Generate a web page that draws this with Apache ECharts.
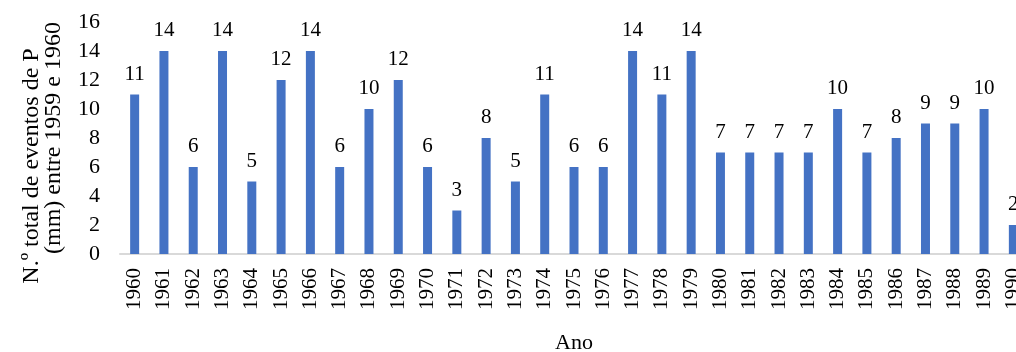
<!DOCTYPE html>
<html>
<head>
<meta charset="utf-8">
<script src="https://cdn.jsdelivr.net/npm/echarts@6/dist/echarts.min.js"></script>
<style>
  html, body { margin: 0; padding: 0; background: #fff; }
  #chart-container { width: 1016px; height: 352px; }
</style>
</head>
<body>
<div id="chart-container"></div>
<script>
// dados
const anos = ['1960', '1961', '1962', '1963', '1964', '1965', '1966', '1967', '1968', '1969',
    '1970', '1971', '1972', '1973', '1974', '1975', '1976', '1977', '1978', '1979',
    '1980', '1981', '1982', '1983', '1984', '1985', '1986', '1987', '1988', '1989', '1990'];
const eventos = [11, 14, 6, 14, 5, 12, 14, 6, 10, 12,
    6, 3, 8, 5, 11, 6, 6, 14, 11, 14,
    7, 7, 7, 7, 10, 7, 8, 9, 9, 10, 2];
const tituloY1 = 'N.º total de eventos de P';
const tituloY2 = '(mm) entre 1959 e 1960';
const tituloX = 'Ano';

const fonte = '"Liberation Serif", "Times New Roman", serif';

const chartContainer = document.getElementById('chart-container');
const myChart = echarts.init(chartContainer);

const option = {
    animation: false,
    textStyle: { fontFamily: fonte, color: '#000' },
    grid: {
        left: 120,
        top: 22,
        width: 908,   // a última categoria fica cortada na margem direita
        height: 232,
        outerBoundsMode: 'none'
    },
    xAxis: {
        type: 'category',
        data: anos,
        name: tituloX,
        nameLocation: 'middle',
        nameGap: 78,
        nameTextStyle: { fontFamily: fonte, fontSize: 22, color: '#000' },
        axisLine: { lineStyle: { color: '#d9d9d9', width: 2 } },
        axisTick: { show: false },
        axisLabel: {
            rotate: 90,
            interval: 0,
            margin: 14,
            fontFamily: fonte,
            fontSize: 21,
            color: '#000'
        }
    },
    yAxis: {
        type: 'value',
        min: 0,
        max: 16,
        interval: 2,
        axisLine: { show: false },
        axisTick: { show: false },
        splitLine: { show: false },
        axisLabel: {
            margin: 20,
            fontFamily: fonte,
            fontSize: 22,
            color: '#000'
        }
    },
    graphic: [
        {
            type: 'text',
            x: 32,
            y: 166,
            rotation: Math.PI / 2,
            style: {
                text: tituloY1,
                font: '24px ' + fonte,
                fill: '#000',
                align: 'center',
                verticalAlign: 'middle'
            }
        },
        {
            type: 'text',
            x: 54,
            y: 138,
            rotation: Math.PI / 2,
            style: {
                text: tituloY2,
                font: '24px ' + fonte,
                fill: '#000',
                align: 'center',
                verticalAlign: 'middle'
            }
        }
    ],
    series: [
        {
            type: 'bar',
            data: eventos,
            barWidth: 9,
            itemStyle: { color: '#4472C4' },
            label: {
                show: true,
                position: 'top',
                distance: 10,
                fontFamily: fonte,
                fontSize: 21,
                color: '#000'
            }
        }
    ]
};

myChart.setOption(option);
</script>
</body>
</html>
